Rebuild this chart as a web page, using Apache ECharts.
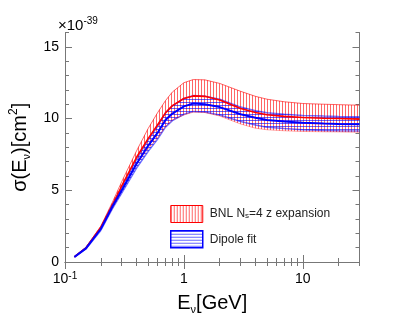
<!DOCTYPE html>
<html>
<head>
<meta charset="utf-8">
<script src="https://cdn.jsdelivr.net/npm/echarts@6/dist/echarts.min.js"></script>
<style>
  html, body { margin: 0; padding: 0; background: #fff; }
  #chart { width: 399px; height: 328px; }
</style>
</head>
<body>
<div id="chart"></div>
<script>
// neutrino energy (GeV) sample points
const energy = [0.12, 0.15, 0.2, 0.25, 0.3, 0.4, 0.5, 0.6, 0.7, 0.8, 1.0, 1.2, 1.5, 2, 3, 4, 5, 7, 10, 15, 20, 30]

// BNL Ns=4 z expansion band (x1e-39 cm^2)
const redCenter = [0.36, 0.98, 2.4, 3.95, 5.3, 7.3, 8.6, 9.55, 10.4, 10.9, 11.4, 11.58, 11.55, 11.3, 10.7, 10.42, 10.27, 10.15, 10.07, 10.02, 10.0, 9.96]
const redUpper = [0.38, 1.02, 2.5, 4.15, 5.6, 7.75, 9.3, 10.4, 11.25, 11.85, 12.5, 12.72, 12.7, 12.45, 11.9, 11.55, 11.35, 11.17, 11.05, 11.0, 10.97, 10.93]
const redLower = [0.34, 0.94, 2.3, 3.75, 4.95, 6.8, 7.9, 8.65, 9.45, 9.9, 10.25, 10.45, 10.42, 10.18, 9.62, 9.33, 9.22, 9.15, 9.1, 9.08, 9.07, 9.05]

// Dipole fit band
const blueCenter = [0.35, 0.95, 2.3, 3.85, 5.0, 6.85, 8.1, 9.0, 9.9, 10.35, 10.85, 11.05, 11.0, 10.8, 10.3, 10.05, 9.9, 9.8, 9.7, 9.65, 9.62, 9.6]
const blueUpper = [0.37, 0.99, 2.4, 4.0, 5.2, 7.15, 8.5, 9.45, 10.4, 10.87, 11.4, 11.6, 11.55, 11.35, 10.8, 10.55, 10.4, 10.3, 10.22, 10.17, 10.14, 10.12]
const blueLower = [0.33, 0.91, 2.2, 3.7, 4.8, 6.55, 7.7, 8.55, 9.4, 9.85, 10.3, 10.5, 10.45, 10.25, 9.8, 9.55, 9.4, 9.3, 9.22, 9.17, 9.15, 9.14]

// axis ticks
const xMajorTicks = [0.1, 1, 10]
const xMinorTicks = [0.2, 0.3, 0.4, 0.5, 0.6, 0.7, 0.8, 0.9, 2, 3, 4, 5, 6, 7, 8, 9, 20, 30]
const yMajorTicks = [0, 5, 10, 15]
const yMinorTicks = [1, 2, 3, 4, 6, 7, 8, 9, 11, 12, 13, 14, 16]

const legendNames = ['BNL N{sub|s}=4 z expansion', 'Dipole fit']

const FONT = 'Liberation Sans'
const AXIS_COLOR = '#777'

const makeHatch = (vertical, color, gap) => {
  const c = document.createElement('canvas')
  c.width = gap
  c.height = gap
  const ctx = c.getContext('2d')
  ctx.fillStyle = color
  if (vertical) ctx.fillRect(0, 0, 1, gap)
  else ctx.fillRect(0, 0, gap, 1)
  return { image: c, repeat: 'repeat' }
}

const redHatch = makeHatch(true, 'rgba(255,0,0,0.6)', 3)
const blueHatch = makeHatch(false, 'rgba(0,0,255,0.6)', 3)

const pairs = (ys) => energy.map((e, i) => [e, ys[i]])

const bandSeries = (name, lower, upper, fill) => ({
  name: name,
  type: 'custom',
  xAxisIndex: 0,
  yAxisIndex: 0,
  data: energy.map((e, i) => [e, lower[i], upper[i]]),
  encode: { x: 0, y: [1, 2] },
  renderItem: (params, api) => {
    if (params.dataIndex !== 0) return
    const top = energy.map((e, i) => api.coord([e, upper[i]]))
    const bottom = energy.map((e, i) => api.coord([e, lower[i]])).reverse()
    return {
      type: 'polygon',
      shape: { points: top.concat(bottom) },
      style: { fill: fill, stroke: null }
    }
  },
  silent: true
})

const lineSeries = (ys, color, width, z) => ({
  type: 'line',
  xAxisIndex: 0,
  yAxisIndex: 0,
  data: pairs(ys),
  showSymbol: false,
  silent: true,
  z: z,
  lineStyle: { color: color, width: width }
})

const xAxisBase = (position, ticks, len, showLine, showLabel) => ({
  type: 'log',
  logBase: 10,
  min: 0.1,
  max: 30,
  position: position,
  splitLine: { show: false },
  axisLine: { show: showLine, lineStyle: { color: AXIS_COLOR, width: 1 } },
  axisTick: { show: true, inside: true, length: len, customValues: ticks, lineStyle: { color: AXIS_COLOR } },
  axisLabel: { show: showLabel }
})

const yAxisBase = (position, ticks, len, showLine, showLabel) => ({
  type: 'value',
  min: 0,
  max: 16,
  position: position,
  splitLine: { show: false },
  axisLine: { show: showLine, lineStyle: { color: AXIS_COLOR, width: 1 } },
  axisTick: { show: true, inside: true, length: len, customValues: ticks, lineStyle: { color: AXIS_COLOR } },
  axisLabel: { show: showLabel }
})

const chart = echarts.init(document.getElementById('chart'))

const xMain = xAxisBase('bottom', xMajorTicks, 7, true, true)
xMain.axisLabel = {
  show: true,
  customValues: xMajorTicks,
  margin: 9,
  color: '#000',
  fontFamily: FONT,
  fontSize: 14,
  lineHeight: 16,
  formatter: v => (v < 0.5 ? '10{sup|-1}' : String(Math.round(v))),
  rich: {
    sup: { fontSize: 10, fontFamily: FONT, color: '#000', verticalAlign: 'top', lineHeight: 10 }
  }
}
xMain.name = 'E{sub|ν}[GeV]'
xMain.nameLocation = 'middle'
xMain.nameGap = 28
xMain.nameTextStyle = {
  color: '#000',
  fontFamily: FONT,
  fontSize: 20,
  lineHeight: 24,
  rich: {
    sub: { fontSize: 11, fontFamily: FONT, color: '#000', verticalAlign: 'bottom', lineHeight: 18 }
  }
}

const yMain = yAxisBase('left', yMajorTicks, 7, true, true)
yMain.axisLabel = {
  show: true,
  customValues: yMajorTicks,
  margin: 6,
  color: '#000',
  fontFamily: FONT,
  fontSize: 14
}
yMain.name = 'σ(E{sub|ν})[cm{sup|2}]'
yMain.nameLocation = 'middle'
yMain.nameGap = 33
yMain.nameTextStyle = {
  color: '#000',
  fontFamily: FONT,
  fontSize: 20,
  lineHeight: 24,
  rich: {
    sub: { fontSize: 11, fontFamily: FONT, color: '#000', verticalAlign: 'bottom', lineHeight: 18 },
    sup: { fontSize: 12, fontFamily: FONT, color: '#000', verticalAlign: 'top', lineHeight: 14 }
  }
}

const option = {
  animation: false,
  backgroundColor: '#fff',
  title: {
    text: '×10{sup|-39}',
    left: 56,
    top: 14,
    padding: 2,
    textStyle: {
      color: '#000',
      fontFamily: FONT,
      fontSize: 15,
      fontWeight: 'normal',
      lineHeight: 19,
      rich: {
        sup: { fontSize: 10, fontFamily: FONT, color: '#000', verticalAlign: 'top', lineHeight: 10 }
      }
    }
  },
  grid: { left: 59.5, right: 39.5, top: 32.5, bottom: 66, containLabel: false },
  legend: {
    orient: 'vertical',
    left: 165,
    top: 200,
    itemWidth: 32,
    itemHeight: 17,
    itemGap: 7,
    selectedMode: false,
    data: [
      { name: legendNames[0], icon: 'rect', itemStyle: { color: redHatch, borderColor: '#ff0000', borderWidth: 1 } },
      { name: legendNames[1], icon: 'rect', itemStyle: { color: blueHatch, borderColor: '#0000ff', borderWidth: 1.5 } }
    ],
    textStyle: {
      color: '#222',
      fontFamily: FONT,
      fontSize: 12,
      padding: [0, 0, 0, 2],
      rich: {
        sub: { fontSize: 8, fontFamily: FONT, color: '#222', verticalAlign: 'bottom', lineHeight: 10 }
      }
    }
  },
  xAxis: [
    xMain,
    xAxisBase('bottom', xMinorTicks, 4, false, false),
    xAxisBase('top', xMajorTicks, 7, true, false),
    xAxisBase('top', xMinorTicks, 4, false, false)
  ],
  yAxis: [
    yMain,
    yAxisBase('left', yMinorTicks, 4, false, false),
    yAxisBase('right', yMajorTicks, 7, true, false),
    yAxisBase('right', yMinorTicks, 4, false, false)
  ],
  series: [
    bandSeries(legendNames[0], redLower, redUpper, redHatch),
    bandSeries(legendNames[1], blueLower, blueUpper, blueHatch),
    lineSeries(blueUpper, 'rgba(0,0,255,0.55)', 1.5, 3),
    lineSeries(blueLower, 'rgba(0,0,255,0.55)', 1.5, 3),
    lineSeries(redUpper, 'rgba(255,0,0,0.6)', 1, 4),
    lineSeries(redLower, 'rgba(255,0,0,0.35)', 1, 4),
    lineSeries(redCenter, '#ff0000', 1.6, 5),
    lineSeries(blueCenter, '#0000ff', 2, 6)
  ]
}

chart.setOption(option)
</script>
</body>
</html>
